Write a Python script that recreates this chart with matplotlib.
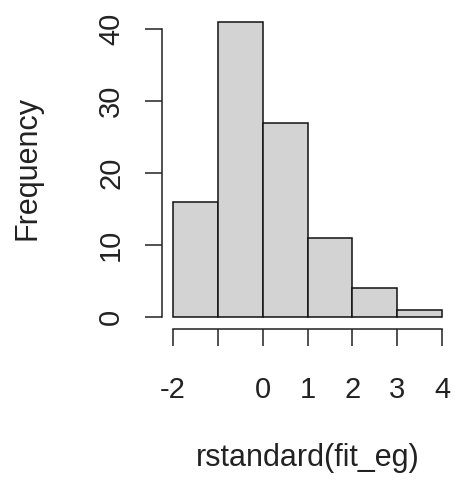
import matplotlib.pyplot as plt

# histogram of standardized residuals
bin_edges = [-2, -1, 0, 1, 2, 3, 4]
counts = [16, 41, 27, 11, 4, 1]
x_ticks = [-2, -1, 0, 1, 2, 3, 4]
x_tick_labels = ['-2', '', '0', '1', '2', '3', '4']
y_ticks = [0, 10, 20, 30, 40]

plt.rcParams['font.family'] = ['Liberation Sans', 'DejaVu Sans']
text_color = '#222222'

fig = plt.figure(figsize=(4.56, 4.82), dpi=100)
ax = fig.add_axes([162 / 456, 1 - 329 / 482, 291 / 456, 319 / 482])

lefts = bin_edges[:-1]
widths = [b - a for a, b in zip(bin_edges[:-1], bin_edges[1:])]
ax.bar(lefts, counts, width=widths, align='edge', color='#d3d3d3',
       edgecolor='#111111', linewidth=1.1)

# R-style axis extension of 4%
xr = bin_edges[-1] - bin_edges[0]
yr = max(counts)
ax.set_xlim(bin_edges[0] - 0.04 * xr, bin_edges[-1] + 0.04 * xr)
ax.set_ylim(-0.04 * yr, yr * 1.04)

for s in ['top', 'right']:
    ax.spines[s].set_visible(False)
ax.spines['left'].set_bounds(y_ticks[0], y_ticks[-1])
ax.spines['bottom'].set_bounds(x_ticks[0], x_ticks[-1])
for s in ['left', 'bottom']:
    ax.spines[s].set_linewidth(1.1)
    ax.spines[s].set_color('#222222')

ax.set_xticks(x_ticks)
ax.set_xticklabels(x_tick_labels)
ax.set_yticks(y_ticks)
ax.set_yticklabels([str(v) for v in y_ticks], rotation=90, va='center')
ax.tick_params(length=12.5, width=1.1, color='#222222', labelsize=21,
               labelcolor=text_color)
ax.tick_params(axis='x', pad=21)
ax.tick_params(axis='y', pad=14)

fig.text(308 / 456, 1 - 458 / 482, 'rstandard(fit_eg)', ha='center',
         va='center', fontsize=22, color=text_color)
fig.text(28 / 456, 1 - 168 / 482, 'Frequency', ha='center', va='center',
         rotation=90, fontsize=22, color=text_color)

fig.savefig('out.png', dpi=100)
